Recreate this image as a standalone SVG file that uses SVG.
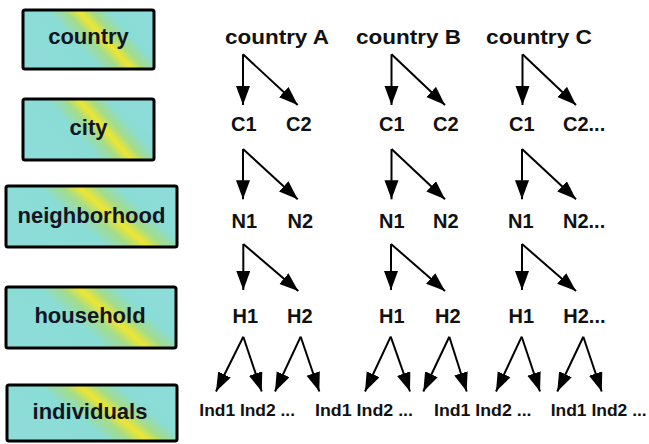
<svg xmlns="http://www.w3.org/2000/svg" width="649" height="444" viewBox="0 0 649 444">
<defs>
<linearGradient id="g" x1="0" y1="0.705" x2="1" y2="0.295">
<stop offset="0" stop-color="#8edcda"/>
<stop offset="0.40" stop-color="#8adcd6"/>
<stop offset="0.52" stop-color="#a4dc8a"/>
<stop offset="0.607" stop-color="#eee632"/>
<stop offset="0.69" stop-color="#a4dc8a"/>
<stop offset="0.80" stop-color="#8adcd6"/>
<stop offset="1" stop-color="#8edcda"/>
</linearGradient>
<marker id="ah" markerUnits="userSpaceOnUse" markerWidth="20" markerHeight="15" refX="19" refY="7" orient="auto">
<path d="M0,0 L19,7 L0,14 Z" fill="#000"/>
</marker>
<style>
.box rect{fill:url(#g);stroke:#000;stroke-width:3}
.box text{font-family:"Liberation Sans",Arial,sans-serif;font-weight:bold;font-size:22px;fill:#141422;text-anchor:middle}
.lbl{font-family:"Liberation Sans",Arial,sans-serif;font-weight:bold;font-size:20px;fill:#111}
.ind{font-family:"Liberation Sans",Arial,sans-serif;font-weight:bold;font-size:17px;fill:#111}
#connectors line{stroke:#000;stroke-width:2;marker-end:url(#ah)}
</style>
</defs>
<rect width="649" height="444" fill="#fff"/>
<g id="level-country" class="box"><rect x="23" y="10" width="131" height="59" rx="2"/><text x="88.5" y="44">country</text></g>
<g id="level-city" class="box"><rect x="23" y="99" width="131" height="61" rx="2"/><text x="88.5" y="135">city</text></g>
<g id="level-neighborhood" class="box"><rect x="6" y="186" width="171" height="61" rx="2"/><text x="91.5" y="223">neighborhood</text></g>
<g id="level-household" class="box"><rect x="6" y="287" width="170" height="61" rx="2"/><text x="90" y="323">household</text></g>
<g id="level-individuals" class="box"><rect x="7" y="385" width="170" height="56" rx="2"/><text x="90" y="419">individuals</text></g>

<g id="countryA"><text class="lbl" x="225" y="43.5" textLength="104" lengthAdjust="spacingAndGlyphs">country A</text></g>
<g id="countryB"><text class="lbl" x="356" y="43.5" textLength="105" lengthAdjust="spacingAndGlyphs">country B</text></g>
<g id="countryC"><text class="lbl" x="486" y="43.5" textLength="106" lengthAdjust="spacingAndGlyphs">country C</text></g>

<g id="A-C1"><text class="lbl" x="231" y="131">C1</text></g>
<g id="A-C2"><text class="lbl" x="286" y="131">C2</text></g>
<g id="B-C1"><text class="lbl" x="379" y="131">C1</text></g>
<g id="B-C2"><text class="lbl" x="433" y="131">C2</text></g>
<g id="C-C1"><text class="lbl" x="509" y="131">C1</text></g>
<g id="C-C2"><text class="lbl" x="563" y="131">C2...</text></g>

<g id="A-N1"><text class="lbl" x="231.5" y="227.5">N1</text></g>
<g id="A-N2"><text class="lbl" x="287.5" y="227.5">N2</text></g>
<g id="B-N1"><text class="lbl" x="379" y="227.5">N1</text></g>
<g id="B-N2"><text class="lbl" x="433" y="227.5">N2</text></g>
<g id="C-N1"><text class="lbl" x="508" y="227.5">N1</text></g>
<g id="C-N2"><text class="lbl" x="563" y="227.5">N2...</text></g>

<g id="A-H1"><text class="lbl" x="232.5" y="322.7">H1</text></g>
<g id="A-H2"><text class="lbl" x="287" y="322.7">H2</text></g>
<g id="B-H1"><text class="lbl" x="379" y="322.7">H1</text></g>
<g id="B-H2"><text class="lbl" x="435" y="322.7">H2</text></g>
<g id="C-H1"><text class="lbl" x="508.5" y="322.7">H1</text></g>
<g id="C-H2"><text class="lbl" x="563.3" y="322.7">H2...</text></g>

<g id="A-ind"><text class="ind" x="199.3" y="415.7" textLength="95.7" lengthAdjust="spacingAndGlyphs">Ind1 Ind2 ...</text></g>
<g id="B-ind"><text class="ind" x="315" y="415.7" textLength="98" lengthAdjust="spacingAndGlyphs">Ind1 Ind2 ...</text></g>
<g id="C-ind"><text class="ind" x="434" y="415.7" textLength="97.5" lengthAdjust="spacingAndGlyphs">Ind1 Ind2 ...</text></g>
<g id="D-ind"><text class="ind" x="550.7" y="415.7" textLength="96" lengthAdjust="spacingAndGlyphs">Ind1 Ind2 ...</text></g>

<g id="connectors">
<line x1="243" y1="54.3" x2="243" y2="105"/>
<line x1="243" y1="54.3" x2="297.7" y2="105"/>
<line x1="391.5" y1="54.3" x2="391.5" y2="105"/>
<line x1="391.5" y1="54.3" x2="445" y2="105"/>
<line x1="522.5" y1="54.3" x2="522.5" y2="105"/>
<line x1="522.5" y1="54.3" x2="576" y2="105"/>

<line x1="243" y1="149" x2="243" y2="199.3"/>
<line x1="243" y1="149" x2="297.7" y2="199.3"/>
<line x1="391.5" y1="149" x2="391.5" y2="199.3"/>
<line x1="391.5" y1="149" x2="445" y2="199.3"/>
<line x1="522" y1="149" x2="522" y2="199.3"/>
<line x1="522" y1="149" x2="576" y2="199.3"/>

<line x1="243.3" y1="244" x2="243.3" y2="290"/>
<line x1="243.3" y1="244" x2="298.3" y2="291"/>
<line x1="391" y1="244" x2="391" y2="290"/>
<line x1="391" y1="244" x2="445" y2="291"/>
<line x1="522" y1="244" x2="522" y2="290"/>
<line x1="522" y1="244" x2="576" y2="291"/>

<line x1="243.3" y1="336.7" x2="216" y2="391.5"/>
<line x1="243.3" y1="336.7" x2="261.7" y2="391.5"/>
<line x1="300.7" y1="336.7" x2="275" y2="391.5"/>
<line x1="300.7" y1="336.7" x2="319.3" y2="391.5"/>
<line x1="390.7" y1="336.7" x2="365" y2="391.5"/>
<line x1="390.7" y1="336.7" x2="410" y2="391.5"/>
<line x1="449.3" y1="336.7" x2="423.3" y2="391.5"/>
<line x1="449.3" y1="336.7" x2="466.7" y2="391.5"/>
<line x1="521.7" y1="336.7" x2="496" y2="391.5"/>
<line x1="521.7" y1="336.7" x2="540" y2="391.5"/>
<line x1="583.3" y1="336.7" x2="557.3" y2="391.5"/>
<line x1="583.3" y1="336.7" x2="601.7" y2="391.5"/>
</g>
</svg>
